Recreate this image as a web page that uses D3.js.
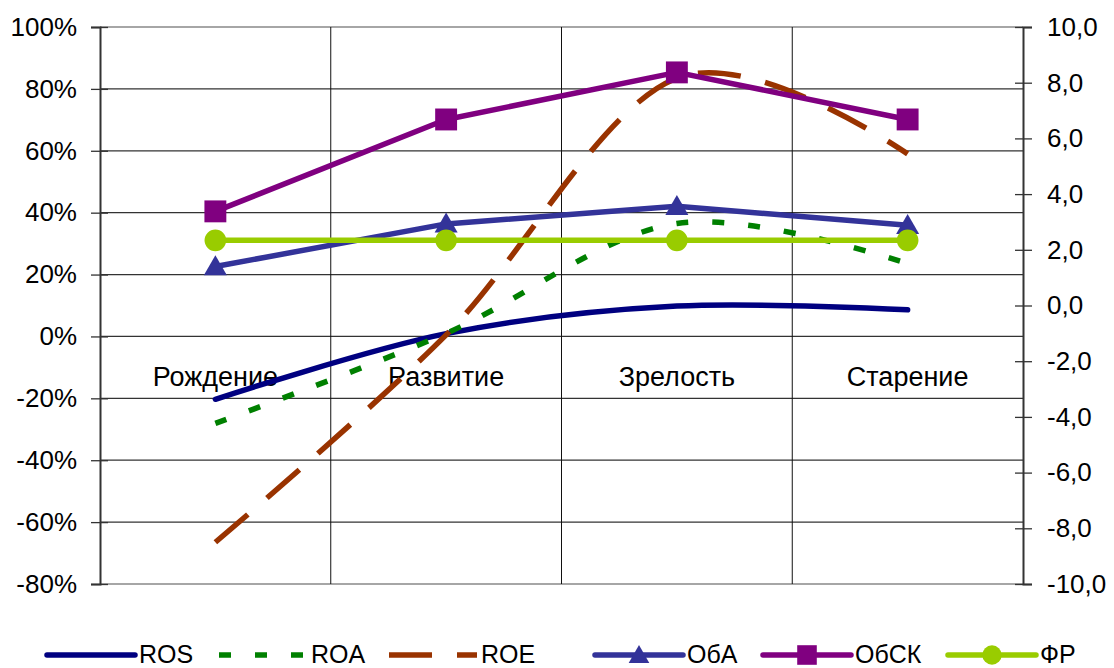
<!DOCTYPE html>
<html><head><meta charset="utf-8">
<script src="https://cdn.jsdelivr.net/npm/d3@7/dist/d3.min.js"></script>
<style>
body{margin:0;background:#fff;}
svg{display:block;font-family:"Liberation Sans",Arial,sans-serif;}
</style></head>
<body><svg id="c" width="1114" height="668"></svg>
<script>
const categories = ["Рождение","Развитие","Зрелость","Старение"];
const ROS  = [-20.3, 0.9, 9.8, 8.6];
const ROA  = [-28.1, 1.0, 36.5, 23.5];
const ROE  = [-66.5, 0.5, 83.5, 59.0];
const ObA  = [1.40, 2.93, 3.56, 2.88];
const ObSK = [3.38, 6.68, 8.37, 6.68];
const FR   = [2.34, 2.34, 2.34, 2.34];
const leftTicks  = [-80,-60,-40,-20,0,20,40,60,80,100];
const rightTicks = [-10,-8,-6,-4,-2,0,2,4,6,8,10];
const seriesNames = ["ROS","ROA","ROE","ОбА","ОбСК","ФР"];

// layout constants
const L=100, R=1023, T=27, B=584;
const legendStart = [47,219,389,595,763,948];

const svg = d3.select("#c");
const x = d3.scaleBand().domain(categories).range([L,R]).padding(0);
const cx = c => x(c) + x.bandwidth()/2;
const yL = d3.scaleLinear().domain([-80,100]).range([B,T]);
const yR = d3.scaleLinear().domain([-10,10]).range([B,T]);

// horizontal gridlines
svg.append("g").selectAll("line").data(leftTicks).join("line")
  .attr("x1",L).attr("x2",R).attr("y1",d=>yL(d)).attr("y2",d=>yL(d))
  .attr("stroke",d=>(d===100||d===-80)?"#888":"#333").attr("stroke-width",1.3);
// vertical gridlines at category boundaries
svg.append("g").selectAll("line").data(categories.slice(1)).join("line")
  .attr("x1",d=>x(d)).attr("x2",d=>x(d)).attr("y1",T).attr("y2",B)
  .attr("stroke","#111").attr("stroke-width",1);

// axes
const fmtL = d => d + "%";
const fmtR = d => d.toFixed(1).replace(".",",");
const axL = svg.append("g").attr("transform",`translate(${L},0)`)
  .call(d3.axisLeft(yL).tickValues(leftTicks).tickFormat(fmtL).tickSize(9).tickPadding(14));
const axR = svg.append("g").attr("transform",`translate(${R},0)`)
  .call(d3.axisRight(yR).tickValues(rightTicks).tickFormat(fmtR).tickSize(9).tickPadding(15));
[axL,axR].forEach(a=>{
  a.select(".domain").attr("stroke","#333").attr("stroke-width",2);
  a.selectAll(".tick line").attr("stroke","#333").attr("stroke-width",1.3);
  a.selectAll(".tick text").attr("font-size",26).attr("fill","#000")
    .attr("font-family","'Liberation Sans',Arial,sans-serif");
});
axL.selectAll(".tick").append("line").attr("x1",0).attr("x2",8).attr("stroke","#333").attr("stroke-width",1.3);
axR.selectAll(".tick").append("line").attr("x1",0).attr("x2",-8).attr("stroke","#333").attr("stroke-width",1.3);

// category labels
svg.append("g").selectAll("text").data(categories).join("text")
  .attr("x",d=>cx(d)).attr("y",yL(0)+50).attr("text-anchor","middle")
  .attr("font-size",27).attr("fill","#000").text(d=>d);

const curveS = d3.curveCardinal.tension(0);
const lineL = d3.line().x((d,i)=>cx(categories[i])).y(d=>yL(d)).curve(curveS);
const lineR = d3.line().x((d,i)=>cx(categories[i])).y(d=>yR(d));

const styles = [
  {data:ROS, gen:lineL, color:"#000080", dash:null, cap:"round"},
  {data:ROA, gen:lineL, color:"#008000", dash:"12,24", cap:"butt"},
  {data:ROE, gen:lineL, color:"#993300", dash:"43,25", cap:"butt"},
  {data:ObA, gen:lineR, color:"#333399", dash:null, cap:"round", marker:"triangle"},
  {data:ObSK,gen:lineR, color:"#800080", dash:null, cap:"round", marker:"square"},
  {data:FR,  gen:lineR, color:"#99CC00", dash:null, cap:"round", marker:"circle"}
];
const markerSym = {triangle:d3.symbolTriangle, square:d3.symbolSquare, circle:d3.symbolCircle};
const markerSize = {triangle:230, square:480, circle:370};

styles.forEach(s=>{
  svg.append("path").attr("d",s.gen(s.data)).attr("fill","none")
    .attr("stroke",s.color).attr("stroke-width",5.5)
    .attr("stroke-linecap",s.cap).attr("stroke-linejoin","round")
    .attr("stroke-dasharray",s.dash);
  if(s.marker){
    svg.append("g").selectAll("path").data(s.data).join("path")
      .attr("transform",(d,i)=>`translate(${cx(categories[i])},${yR(d)+(s.marker==="triangle"?2:0)})`)
      .attr("d",d3.symbol().type(markerSym[s.marker]).size(markerSize[s.marker])())
      .attr("fill",s.color);
  }
});

// legend
const lg = svg.append("g");
const ly = 655;
styles.forEach((s,i)=>{
  const lx = legendStart[i];
  const g = lg.append("g");
  g.append("line").attr("x1",lx).attr("x2",lx+88).attr("y1",ly).attr("y2",ly)
    .attr("stroke",s.color).attr("stroke-width",5.5)
    .attr("stroke-linecap",s.dash?"butt":"round").attr("stroke-dasharray",s.dash);
  if(s.marker){
    g.append("path").attr("transform",`translate(${lx+44},${ly+(s.marker==="triangle"?2:0)})`)
      .attr("d",d3.symbol().type(markerSym[s.marker]).size(markerSize[s.marker]*0.8)())
      .attr("fill",s.color);
  }
  g.append("text").attr("x",lx+92).attr("y",ly+8).attr("font-size",25)
    .attr("fill","#000").text(seriesNames[i]);
});
</script></body></html>
